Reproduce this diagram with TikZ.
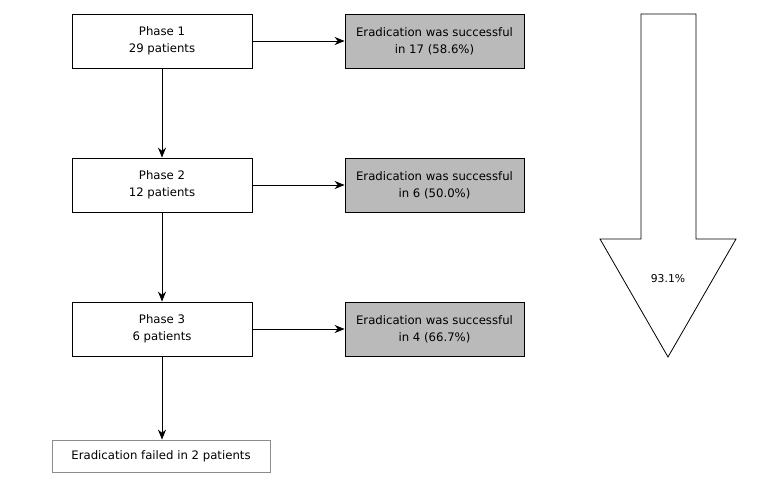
\documentclass[tikz,border=0pt]{standalone}
\usepackage{fontspec}
\setmainfont{DejaVu Sans}
\usetikzlibrary{arrows.meta}
\begin{document}
\begin{tikzpicture}[x=1pt,y=-1pt,
  phasebox/.style={draw=black, line width=0.8pt, fill=white, minimum width=180pt, minimum height=54pt, align=center, font=\fontsize{11.7}{17}\selectfont, inner sep=0pt},
  okbox/.style={draw=black, line width=0.8pt, fill=black!27, minimum width=179pt, minimum height=54pt, align=center, font=\fontsize{11.7}{17}\selectfont, inner sep=0pt},
  failbox/.style={draw=black!45, line width=0.8pt, fill=white, minimum width=218pt, minimum height=32pt, align=center, font=\fontsize{11.7}{17}\selectfont, inner sep=0pt},
  conn/.style={line width=0.8pt, -{Stealth[length=10pt,width=8pt]}}]
\useasboundingbox (0,0) rectangle (778,476);
\node[phasebox] (p1) at (162,41) {Phase 1\\29 patients};
\node[phasebox] (p2) at (162,185) {Phase 2\\12 patients};
\node[phasebox] (p3) at (162,329) {Phase 3\\6 patients};
\node[okbox] (s1) at (434.5,41) {Eradication was successful\\in 17 (58.6\%)};
\node[okbox] (s2) at (434.5,185) {Eradication was successful\\in 6 (50.0\%)};
\node[okbox] (s3) at (434.5,329) {Eradication was successful\\in 4 (66.7\%)};
\node[failbox] (f) at (161,456) {Eradication failed in 2 patients};
\draw[conn] (p1) -- (s1);
\draw[conn] (p2) -- (s2);
\draw[conn] (p3) -- (s3);
\draw[conn] (p1) -- (p2);
\draw[conn] (p2) -- (p3);
\draw[conn] (p3.south) -- (p3.south |- f.north);
\draw[line width=0.8pt, fill=white] (641,14) -- (696,14) -- (696,239) -- (736,239) -- (668,357) -- (600,239) -- (641,239) -- cycle;
\node[font=\fontsize{10.8}{13}\selectfont] (pct) at (668,279) {93.1\%};
\end{tikzpicture}
\end{document}
